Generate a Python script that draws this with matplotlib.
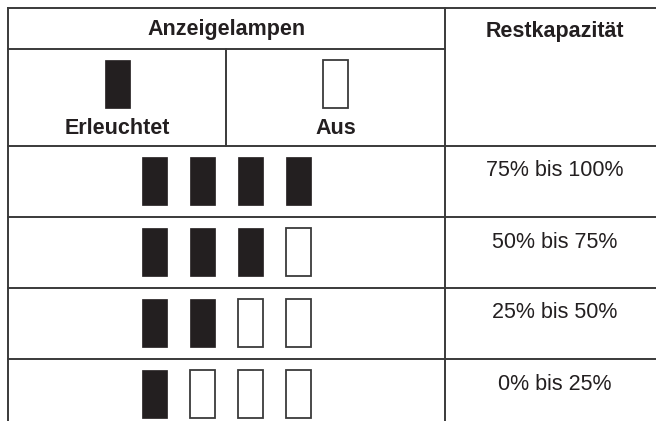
import matplotlib.pyplot as plt
from matplotlib.patches import Rectangle

plt.rcParams['font.family'] = ['Liberation Sans', 'DejaVu Sans']

# table content
header_left = "Anzeigelampen"
header_right = "Restkapazität"
legend_labels = ["Erleuchtet", "Aus"]
legend_lit = [True, False]
levels = ["75% bis 100%", "50% bis 75%", "25% bis 50%", "0% bis 25%"]
lit_counts = [4, 3, 2, 1]
n_lamps = 4

line_col = "#3a3a3a"
lamp_col = "#231f20"
lw = 1.4

fig = plt.figure(figsize=(6.56, 4.21), dpi=100)
ax = fig.add_axes([0, 0, 1, 1])
ax.set_xlim(0, 656)
ax.set_ylim(421, 0)
ax.axis("off")

# grid layout (pixels)
x_left, x_mid, x_div, x_right = 8, 226, 445, 665
y_top, y_sub, y_head = 8, 49, 146
row_h = 71
lamp_w, lamp_h = 25, 48


def lamp(x, y, lit):
    if lit:
        ax.add_patch(Rectangle((x, y), lamp_w, lamp_h, facecolor=lamp_col,
                               edgecolor=lamp_col, lw=0.5))
    else:
        ax.add_patch(Rectangle((x, y), lamp_w, lamp_h, facecolor="white",
                               edgecolor=line_col, lw=1.3))


# --- header ---
y_bottom = y_head + row_h * len(levels)
ax.plot([x_left, x_right], [y_top, y_top], color=line_col, lw=lw)
ax.plot([x_left, x_div], [y_sub, y_sub], color=line_col, lw=lw)
ax.plot([x_left, x_right], [y_head, y_head], color=line_col, lw=lw)
ax.plot([x_left, x_left], [y_top, y_bottom], color=line_col, lw=lw)
ax.plot([x_div, x_div], [y_top, y_bottom], color=line_col, lw=lw)
ax.plot([x_mid, x_mid], [y_sub, y_head], color=line_col, lw=lw)

ax.text((x_left + x_div) / 2, 30, header_left, ha="center", va="center",
        fontsize=15.5, fontweight="bold", color="#231f20")
ax.text((x_div + x_right) / 2, 31, header_right, ha="center", va="center",
        fontsize=15.5, fontweight="bold", color="#231f20")

col_centers = [(x_left + x_mid) / 2, (x_mid + x_div) / 2]
for cx, label, lit in zip(col_centers, legend_labels, legend_lit):
    lamp(cx - lamp_w / 2, 60, lit)
    ax.text(cx, 128, label, ha="center", va="center", fontsize=15.5,
            fontweight="bold", color="#231f20")

# --- rows ---
pitch = 48
x0 = 142
for i, (label, n_lit) in enumerate(zip(levels, lit_counts)):
    top = y_head + row_h * i
    ax.plot([x_left, x_right], [top + row_h, top + row_h], color=line_col, lw=lw)
    for k in range(n_lamps):
        lamp(x0 + k * pitch, top + 11, k < n_lit)
    ax.text((x_div + x_right) / 2, top + 25, label, ha="center", va="center",
            fontsize=15.5, color="#231f20")

fig.savefig("out.png", dpi=100)
